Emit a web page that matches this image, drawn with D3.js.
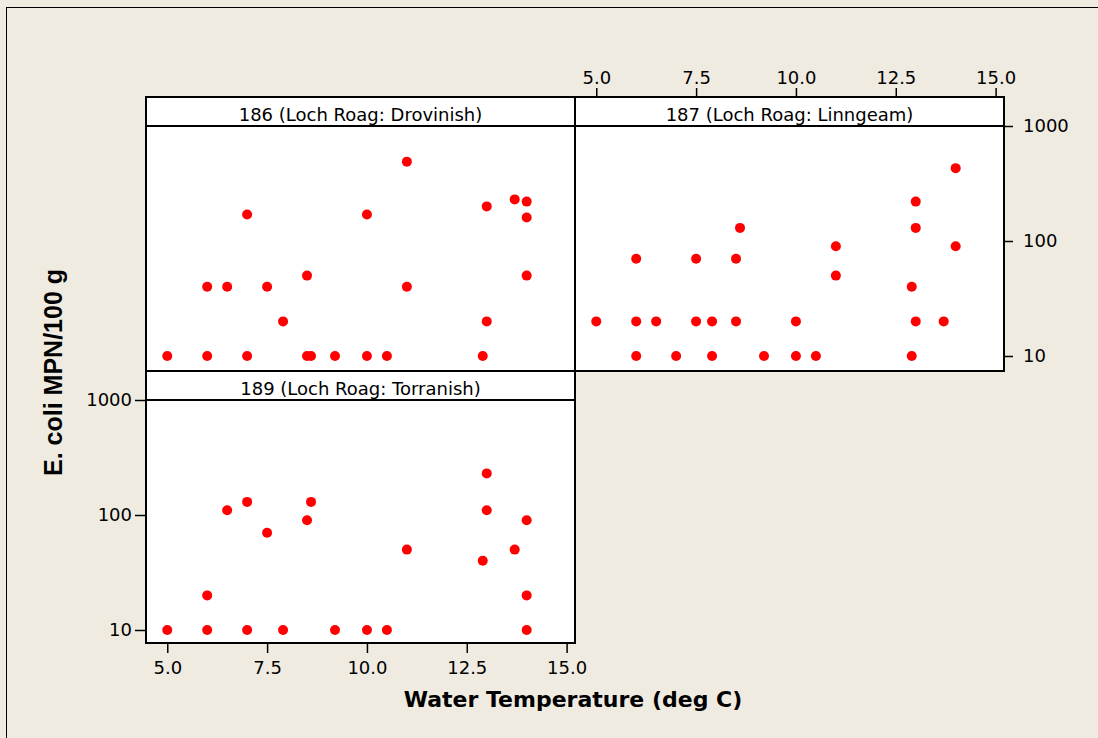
<!DOCTYPE html>
<html>
<head>
<meta charset="utf-8">
<script src="https://cdn.jsdelivr.net/npm/d3@7"></script>
<style>
  html, body { margin: 0; padding: 0; background: #EFEBE1; }
  svg { display: block; }
</style>
</head>
<body>
<svg id="chart" width="1098" height="738"></svg>
<script>
// ---------- data ----------
const panelTitles = ["186 (Loch Roag: Drovinish)", "187 (Loch Roag: Linngeam)", "189 (Loch Roag: Torranish)"];

const temps186 = [5.0, 6.0, 7.0, 8.5, 8.6, 9.2, 10.0, 10.5, 12.9, 6.0, 6.5, 7.5, 11.0, 7.9, 13.0, 8.5, 14.0, 7.0, 10.0, 11.0, 13.0, 13.7, 14.0, 14.0];
const ecoli186 = [10, 10, 10, 10, 10, 10, 10, 10, 10, 40, 40, 40, 40, 20, 20, 50, 50, 170, 170, 490, 200, 230, 220, 160];

const temps187 = [6.0, 7.0, 7.9, 9.2, 10.0, 10.5, 12.9, 5.0, 6.0, 6.5, 7.5, 7.9, 8.5, 10.0, 13.0, 13.7, 6.0, 7.5, 8.5, 8.6, 13.0, 11.0, 14.0, 11.0, 12.9, 13.0, 14.0];
const ecoli187 = [10, 10, 10, 10, 10, 10, 10, 20, 20, 20, 20, 20, 20, 20, 20, 20, 70, 70, 70, 130, 130, 90, 90, 50, 40, 220, 430];

const temps189 = [5.0, 6.0, 7.0, 7.9, 9.2, 10.0, 10.5, 14.0, 6.0, 14.0, 6.5, 13.0, 7.0, 8.6, 8.5, 14.0, 7.5, 11.0, 13.7, 12.9, 13.0];
const ecoli189 = [10, 10, 10, 10, 10, 10, 10, 10, 20, 20, 110, 110, 130, 130, 90, 90, 70, 50, 50, 40, 230];

const xTickValues = [5, 7.5, 10, 12.5, 15];
const xTickLabels = ["5.0", "7.5", "10.0", "12.5", "15.0"];
const yTickValues = [10, 100, 1000];
const yTickLabels = ["10", "100", "1000"];

const xLabel = "Water Temperature (deg C)";
const yLabel = "E. coli MPN/100 g";

// ---------- layout ----------
const svg = d3.select("#chart");
const W = 1098, H = 738;
const colX = [146, 575, 1004];
const rowTop = [97, 371];
const headerH = 29;
const rowBottom = [371, 643];
const xDomain = [4.4675, 15.21];
const pxPerDecade = 115;

svg.append("rect").attr("width", W).attr("height", H).attr("fill", "#EFEBE1");
// frame lines (top & left)
svg.append("line").attr("x1", 6.5).attr("x2", 6.5).attr("y1", 7).attr("y2", H).attr("stroke", "#000").attr("stroke-width", 1);
svg.append("line").attr("x1", 6).attr("x2", W).attr("y1", 7.5).attr("y2", 7.5).attr("stroke", "#000").attr("stroke-width", 1);

const panels = [
  { title: panelTitles[0], col: 0, row: 0, t: temps186, e: ecoli186 },
  { title: panelTitles[1], col: 1, row: 0, t: temps187, e: ecoli187 },
  { title: panelTitles[2], col: 0, row: 1, t: temps189, e: ecoli189 }
];

const fontTick = "'DejaVu Sans', Verdana, sans-serif";

panels.forEach(p => {
  const x0 = colX[p.col], x1 = colX[p.col + 1];
  const hTop = rowTop[p.row], pTop = hTop + headerH, pBot = rowBottom[p.row];
  const plotH = pBot - pTop;
  const lowVal = Math.pow(10, 3 - plotH / pxPerDecade);
  const x = d3.scaleLinear().domain(xDomain).range([x0, x1]);
  const y = d3.scaleLog().domain([lowVal, 1000]).range([pBot, pTop]);
  p.x = x; p.y = y;

  const g = svg.append("g");
  // plot area
  g.append("rect").attr("x", x0).attr("y", pTop).attr("width", x1 - x0).attr("height", plotH).attr("fill", "#fff");
  // header
  g.append("rect").attr("x", x0).attr("y", hTop).attr("width", x1 - x0).attr("height", headerH).attr("fill", "#fff");
  g.append("text").attr("x", (x0 + x1) / 2).attr("y", pTop - 5.5)
    .attr("text-anchor", "middle").attr("font-family", fontTick).attr("font-size", 18).attr("fill", "#000")
    .text(p.title);

  // points
  g.selectAll("circle").data(p.t.map((t, i) => [t, p.e[i]])).join("circle")
    .attr("cx", d => x(d[0])).attr("cy", d => y(d[1])).attr("r", 5).attr("fill", "#FF0000");

  // borders
  g.append("rect").attr("x", x0).attr("y", hTop).attr("width", x1 - x0).attr("height", pBot - hTop)
    .attr("fill", "none").attr("stroke", "#000").attr("stroke-width", 2);
  g.append("line").attr("x1", x0).attr("x2", x1).attr("y1", pTop).attr("y2", pTop).attr("stroke", "#000").attr("stroke-width", 2);
});

function styleAxis(sel) {
  sel.select(".domain").remove();
  sel.selectAll(".tick line").attr("stroke", "#000").attr("stroke-width", 1.5);
  sel.selectAll(".tick text").attr("font-family", fontTick).attr("font-size", 18).attr("fill", "#000");
}

// bottom x axis (panel 189)
const p189 = panels[2], p187 = panels[1];
svg.append("g").attr("transform", `translate(0,${rowBottom[1]})`)
  .call(d3.axisBottom(p189.x).tickValues(xTickValues).tickFormat((d, i) => xTickLabels[i]).tickSize(10).tickPadding(8))
  .call(styleAxis);

// top x axis (panel 187)
svg.append("g").attr("transform", `translate(0,${rowTop[0]})`)
  .call(d3.axisTop(p187.x).tickValues(xTickValues).tickFormat((d, i) => xTickLabels[i]).tickSize(9).tickPadding(4))
  .call(styleAxis);

// left y axis (panel 189)
svg.append("g").attr("transform", `translate(${colX[0]},0)`)
  .call(d3.axisLeft(p189.y).tickValues(yTickValues).tickFormat((d, i) => yTickLabels[i]).tickSize(11).tickPadding(3))
  .call(styleAxis);

// right y axis (panel 187)
svg.append("g").attr("transform", `translate(${colX[2]},0)`)
  .call(d3.axisRight(p187.y).tickValues(yTickValues).tickFormat((d, i) => yTickLabels[i]).tickSize(9).tickPadding(10))
  .call(styleAxis);

// axis titles
svg.append("text").attr("x", 573).attr("y", 707).attr("text-anchor", "middle")
  .attr("font-family", "'DejaVu Sans', Verdana, sans-serif").attr("font-weight", "bold").attr("font-size", 22).attr("fill", "#000")
  .text(xLabel);

svg.append("text").attr("transform", "translate(62,372.5) rotate(-90)").attr("text-anchor", "middle")
  .attr("font-family", "'Liberation Sans', Arial, sans-serif").attr("font-weight", "bold").attr("font-size", 25).attr("fill", "#000")
  .text(yLabel);
</script>
</body>
</html>
